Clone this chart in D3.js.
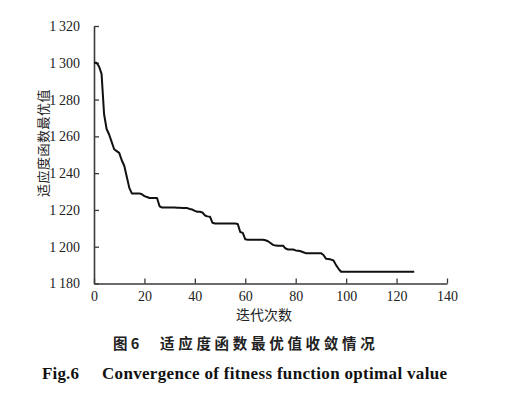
<!DOCTYPE html>
<html><head><meta charset="utf-8">
<script src="https://cdn.jsdelivr.net/npm/d3@7"></script>
<style>
html,body{margin:0;padding:0;background:#fff;}
svg{display:block;}
</style></head>
<body>
<svg id="chart" width="524" height="398"></svg>
<script>
// Iteration index and best fitness value per iteration
const iterations = d3.range(0, 128);
const fitness = [
 1300, 1300, 1298, 1294, 1272, 1264, 1261, 1257, 1253, 1252,
 1251, 1247, 1244, 1238, 1232, 1229, 1229, 1229, 1229, 1228.5,
 1227.5, 1227, 1226.5, 1226.5, 1226.5, 1226.5, 1222, 1221.3, 1221.3, 1221.3,
 1221.3, 1221.3, 1221.3, 1221.2, 1221.2, 1221.1, 1221, 1221, 1220.5, 1220.2,
 1219.5, 1219, 1219, 1218.6, 1217, 1216.5, 1216.3, 1213, 1212.6, 1212.6,
 1212.6, 1212.6, 1212.6, 1212.6, 1212.6, 1212.6, 1212.6, 1212.4, 1208, 1207.5,
 1204, 1203.8, 1203.8, 1203.8, 1203.8, 1203.8, 1203.8, 1203.8, 1203.5, 1203,
 1202, 1201, 1200.6, 1200.5, 1200.5, 1200.5, 1199, 1198.5, 1198.5, 1198.5,
 1198, 1197.8, 1197.5, 1197, 1196.5, 1196.5, 1196.5, 1196.5, 1196.5, 1196.5,
 1196.5, 1195.5, 1193.5, 1193.3, 1193, 1192.5, 1190, 1188, 1186.4, 1186.4,
 1186.4, 1186.4, 1186.4, 1186.4, 1186.4, 1186.4, 1186.4, 1186.4, 1186.4, 1186.4,
 1186.4, 1186.4, 1186.4, 1186.4, 1186.4, 1186.4, 1186.4, 1186.4, 1186.4, 1186.4,
 1186.4, 1186.4, 1186.4, 1186.4, 1186.4, 1186.4, 1186.4, 1186.4
];
const xTicks = [0, 20, 40, 60, 80, 100, 120, 140];
const yTicks = [1180, 1200, 1220, 1240, 1260, 1280, 1300, 1320];
const yTickLabels = ["1 180", "1 200", "1 220", "1 240", "1 260", "1 280", "1 300", "1 320"];
const xTitle = "迭代次数";
const yTitle = "适应度函数最优值";
const captionCn = ["图 6", "适应度函数最优值收敛情况"];
const captionEn = ["Fig.6", "Convergence of fitness function optimal value"];

const svg = d3.select("#chart");
const x = d3.scaleLinear().domain([0, 140]).range([94, 447]);
const y = d3.scaleLinear().domain([1180, 1320]).range([283.5, 26]);
const axisColor = "#3a3a3a";
const serif = "'Liberation Serif','Times New Roman',serif";
const cjk = "'Noto Sans CJK SC','Noto Sans CJK JP',sans-serif";

// X axis
const gx = svg.append("g").attr("transform", `translate(0,${y(1180)})`)
  .call(d3.axisBottom(x).tickValues(xTicks).tickSizeInner(-5).tickSizeOuter(0).tickPadding(7.5));
// Y axis
const gy = svg.append("g").attr("transform", `translate(${x(0)},0)`)
  .call(d3.axisLeft(y).tickValues(yTicks).tickSizeInner(-5).tickSizeOuter(0).tickPadding(14)
    .tickFormat((d, i) => yTickLabels[i].replace(" ", "\u2009")));
[gx, gy].forEach(g => {
  g.select(".domain").attr("stroke", axisColor).attr("stroke-width", 1.6);
  g.selectAll(".tick line").attr("stroke", axisColor).attr("stroke-width", 1.3);
  g.selectAll(".tick text").attr("fill", "#222").style("font-family", serif).style("font-size", "14px");
});

// Line
const line = d3.line().x((d, i) => x(iterations[i])).y(d => y(d));
svg.append("path").datum(fitness)
  .attr("d", line).attr("fill", "none").attr("stroke", "#111")
  .attr("stroke-width", 2).attr("stroke-linejoin", "round");

// Axis titles
svg.append("text").attr("x", 264).attr("y", 320).attr("text-anchor", "middle")
  .style("font-family", cjk).style("font-size", "14px").attr("fill", "#222").text(xTitle);
svg.append("text").attr("transform", "translate(48,143) rotate(-90)").attr("text-anchor", "middle")
  .style("font-family", cjk).style("font-size", "13px").attr("fill", "#222")
  .style("letter-spacing", "0.5px").text(yTitle);

// Captions
svg.append("text").attr("x", 113).attr("y", 349)
  .style("font-family", cjk).style("font-weight", "bold").style("font-size", "14.5px").attr("fill", "#222")
  .style("white-space", "pre").text(captionCn[0]);
svg.append("text").attr("x", 160).attr("y", 349)
  .style("font-family", cjk).style("font-weight", "bold").style("font-size", "14.5px").attr("fill", "#222")
  .style("letter-spacing", "3.7px").text(captionCn[1]);
svg.append("text").attr("x", 42).attr("y", 379)
  .style("font-family", serif).style("font-weight", "bold").style("font-size", "17px").attr("fill", "#111")
  .attr("textLength", 37).attr("lengthAdjust", "spacing")
  .text(captionEn[0]);
svg.append("text").attr("x", 102).attr("y", 379)
  .style("font-family", serif).style("font-weight", "bold").style("font-size", "17px").attr("fill", "#111")
  .attr("textLength", 345).attr("lengthAdjust", "spacing")
  .text(captionEn[1]);
</script>
</body></html>
